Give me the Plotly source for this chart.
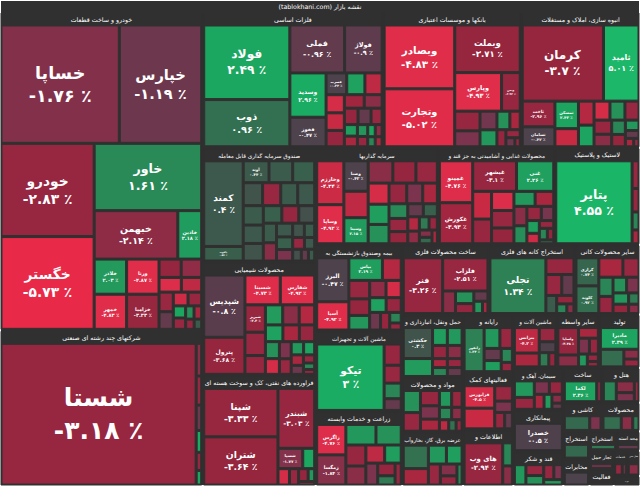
import plotly.graph_objects as go

# sector headers as they read on the map
sector_names = [
    "خودرو و ساخت قطعات", "شرکتهای چند رشته ای صنعتی", "فلزات اساسی",
    "بانکها و موسسات اعتباری", "انبوه سازی، املاک و مستغلات",
    "صندوق سرمایه گذاری قابل معامله", "محصولات شیمیایی",
    "فراورده های نفتی، کک و سوخت هسته ای", "سرمایه گذاریها",
    "محصولات غذایی و آشامیدنی به جز قند و", "لاستیک و پلاستیک",
    "بیمه وصندوق بازنشستگی به", "ماشین آلات و تجهیزات", "زراعت و خدمات وابسته",
    "ساخت محصولات فلزی", "استخراج کانه های فلزی", "سایر محصولات کانی",
    "حمل ونقل، انبارداری و", "مواد و محصولات", "عرضه برق، گاز، بخاروآب",
    "رایانه و", "فعالیتهای کمک", "ماشین آلات و", "اطلاعات و", "سایر واسطه",
    "تولید", "سیمان، آهک و", "پیمانکاری", "قند و شکر", "ساخت", "هتل و",
    "کاشی و", "محصولات", "استخراج", "مخابرات", "خدمات", "استخراج ",
    "فعالیت", "محد استه", "تجار حمل", "خرده", "فعال منس",
]
# relative market size of each sector (area on the map)
sector_sizes = [
    64000, 31300, 24300, 18600, 16000, 12800, 12700, 12400, 11800, 11200, 8200,
    7400, 6900, 6400, 6000, 5950, 4500, 3800, 3300, 3250, 2900, 2850, 2300, 2800,
    2250, 2150, 2100, 2050, 1700, 1350, 1300, 1100, 1080, 720, 700, 340, 520,
    400, 450, 445, 260, 320,
]

# symbols per sector ("" = cell too small for a label)
leaf_names = [
    ["خساپا", "خپارس", "خودرو", "خگستر", "خاور", "خبهمن", "خاذین", "خلاذر", "خمهر", "ورنا", "خزامیا"] + [""] * 14,
    ["شستا"] + [""] * 6,
    ["فولاد", "ذوب", "فملی", "فولاژ", "وسدید", "فخوز", "فسرب"] + [""] * 18,
    ["وبصادر", "وتجارت", "وبملت", "وپارس", "وبمن"] + [""] * 10,
    ["کرمان", "ثامید", "ثاخت", "ثسامان", "ثمسکن"] + [""] * 14,
    ["کمند", "یاقوت", "آوند"] + [""] * 25,
    ["شپدیس", "شسینا", "شفارس", "پترول", "شبریز"] + [""] * 19,
    ["شپنا", "شتران", "شبندر", "شسپا"] + [""] * 6,
    ["وخارزم", "وساپا", "وصنا", "وسینا"] + [""] * 22,
    ["غمینو", "غکورش", "غبشهر", "غنی"] + [""] * 17,
    ["پتایر"] + [""] * 4,
    ["البرز", "آسیا", "بپاس"] + [""] * 12,
    ["تیکو"] + [""] * 4,
    ["زاگرس", "زمگسا"] + [""] * 10,
    ["فنر", "فلزاب"] + [""] * 6,
    ["تجلی"] + [""] * 7,
    ["کرازی", "کلوند"] + [""] * 10,
    ["حکشتی"] + [""] * 9,
    [""] * 12,
    [""] * 8,
    ["رانفور"] + [""] * 6,
    ["فرابورس"] + [""] * 5,
    ["بترانس"] + [""] * 5,
    ["های وب"] + [""] * 2,
    ["ولساپا"] + [""] * 7,
    ["مادیرا"] + [""] * 3,
    [""] * 8,
    ["خصدرا"],
    [""] * 6,
    ["لکما", ""],
    [""] * 4,
    [""] * 2,
    [""] * 3,
    [""],
    [""],
    [""] * 2,
    [""],
    [""],
    [""],
    [""],
    [""],
    [""],
]
leaf_sizes = [
    [14500, 10100, 9000, 8950, 7500, 4200, 1200, 1180, 1180, 1180, 1180,
     420, 390, 340, 310, 290, 260, 210, 195, 155, 145, 115, 105, 90, 80],
    [27500, 180, 160, 140, 120, 100, 80],
    [6000, 3800, 2450, 1680, 1500, 1000, 420,
     370, 350, 310, 300, 280, 250, 225, 210, 200, 170, 140, 130, 115, 100, 85, 78, 70, 65],
    [4700, 4270, 3250, 1885, 750, 520, 420, 330, 300, 250, 200, 160, 120, 85, 50],
    [6960, 3040, 945, 735, 730, 480, 420, 380, 340, 320, 300, 280, 250, 220, 190, 160, 120, 80, 50],
    [3650, 620, 610, 420, 420, 560, 520, 480, 450, 420, 400, 380, 350, 320, 300, 280,
     260, 240, 220, 200, 180, 160, 150, 130, 110, 90, 80],
    [2800, 1150, 1120, 1670, 610, 520, 420, 380, 360, 340, 320, 300, 280, 260, 240,
     220, 200, 180, 160, 140, 120, 100, 80, 60],
    [3850, 3820, 2350, 540, 260, 200, 160, 130, 90, 60],
    [1300, 1160, 805, 690, 460, 700, 600, 560, 520, 480, 440, 400, 360, 330, 300,
     270, 250, 220, 200, 180, 160, 140, 120, 100, 90, 80],
    [1500, 1470, 1435, 1220, 560, 500, 460, 420, 380, 340, 300, 270, 250, 220, 190,
     170, 140, 120, 100, 80, 60],
    [6630, 200, 170, 130, 100],
    [1400, 900, 750, 420, 380, 340, 300, 280, 260, 240, 220, 190, 160, 120, 80],
    [4690, 380, 320, 280, 210],
    [890, 880, 620, 520, 420, 380, 340, 300, 260, 220, 160, 135],
    [2280, 1560, 300, 240, 190, 150, 110, 70],
    [3190, 480, 340, 260, 200, 150, 100, 70],
    [660, 650, 480, 320, 280, 250, 220, 200, 180, 150, 120, 100],
    [930, 540, 270, 270, 200, 200, 135, 135, 135, 135],
    [500, 420, 380, 330, 300, 270, 230, 200, 170, 140, 110, 90],
    [660, 460, 380, 330, 280, 220, 170, 120],
    [1020, 380, 300, 240, 220, 180, 120],
    [760, 700, 300, 220, 180, 140],
    [700, 380, 260, 200, 150, 110],
    [1680, 230, 190],
    [760, 330, 280, 230, 190, 150, 110, 80],
    [850, 420, 150, 120],
    [360, 260, 220, 190, 160, 130, 100, 70],
    [1200],
    [280, 230, 200, 180, 150, 120],
    [700, 100],
    [330, 260, 200, 120],
    [450, 200],
    [350, 220, 120],
    [400],
    [350],
    [150, 80],
    [250],
    [150],
    [130],
    [120],
    [90],
    [80],
]
leaf_pcts = [
    [-1.76, -1.19, -2.83, -5.73, 1.61, -2.14, 2.18, 2.03, -4.83, -4.87, -3.33,
     -3.5, -2.2, -4.6, -4.2, -2.8, -1.0, -4.4, -3.1, 2.5, -2.5, 1.8, -4.0, -3.0, 0.5],
    [-3.18, -2.0, -2.5, -1.2, 2.6, -3.0, 2.4],
    [2.49, 0.96, -0.96, -0.9, 2.96, -0.47, -0.44,
     2.3, -4.2, -4.5, -4.3, -3.6, -3.9, -2.0, -3.5, -1.0, -2.6, 2.2, -4.0, 1.9, -3.0, 2.5, -2.2, 1.5, -4.0],
    [-4.83, -5.02, -3.71, -4.93, -2.92, -3.2, -1.5, -1.3, 2.0, 1.8, -4.0, -3.6, -2.5, -1.2, -3.0],
    [-3.7, 5.01, -2.96, -0.42, 2.43, -4.3, -4.1, 2.4, -4.5, 1.8, -2.7, -3.0, -2.0, 1.5, -3.8, 2.0, -1.0, -4.0, -2.4],
    [0.4, 0.56, 0.44, 0.5, 0.4, 0.5, 0.6, 0.3, -2.5, 0.5, 0.4, 0.3, 0.6, -3.0, 0.2, 0.5,
     -2.0, 0.4, 0.6, -1.5, 0.3, 0.5, -2.8, 0.4, 0.2, -1.0, 0.5],
    [-0.8, -4.73, -4.92, -3.68, -3.4, -2.5, -3.1, 2.1, -2.0, -4.1, 2.3, -4.0, -3.3, 1.8,
     -4.5, -1.5, -2.6, 2.0, 2.4, -4.0, -1.2, -2.8, 1.5, -3.5],
    [-3.33, -3.64, -3.03, -1.77, 2.5, -4.5, -2.8, -3.5, 2.0, -4.0],
    [-4.34, -4.92, -0.42, 2.15, 2.2, -4.2, -2.0, -3.6, -2.8, -4.5, 1.8, -3.0, -1.5, -4.0,
     1.6, -2.5, -3.8, -1.0, 0.6, -4.1, -2.2, 1.2, -3.0, -1.8, 0.8, -4.0],
    [-4.76, -3.93, -3.1, 2.26, -4.3, -3.0, -4.6, -2.5, -3.8, 2.0, -4.0, -2.0, 1.7, -3.3,
     -1.4, 2.2, -4.4, -2.7, 1.5, -3.6, 0.9],
    [4.55, -2.5, -3.0, 1.5, -4.0],
    [-0.47, -4.92, 2.19, -4.1, -2.8, -3.5, 1.9, -2.2, -4.5, 2.3, -3.0, -1.2, -3.8, 1.4, -2.5],
    [3.0, -3.2, -2.5, 1.5, -1.0],
    [-4.76, -1.84, 2.0, 1.8, -3.0, -2.0, -4.2, 2.2, -1.5, -3.5, 1.2, -2.8],
    [-3.26, -2.51, -2.0, 1.8, -3.5, -1.0, 2.0, -4.0],
    [1.34, -3.2, -2.5, -1.0, 0.5, -3.8, 1.5, -2.0],
    [0.74, 0.92, -4.0, -2.5, 1.5, -3.0, 1.8, -1.5, 2.0, -3.8, 1.2, -2.0],
    [0.3, 2.1, 2.2, 2.0, -3.0, -2.0, -4.0, 1.5, -2.5, -1.0],
    [1.8, -2.5, -3.0, -1.5, -4.0, 2.0, -3.4, 1.5, -2.0, -4.2, 1.0, -3.0],
    [1.0, -4.0, 2.0, 2.2, -2.5, -1.8, -3.0, 1.5],
    [1.34, 2.0, -2.5, -1.0, 2.2, 1.5, -3.0],
    [-4.5, -4.3, -2.5, -1.5, -3.0, -1.0],
    [-4.2, -4.0, -2.5, -0.5, 1.2, -3.5],
    [-2.94, 1.5, -2.0],
    [-3.48, -2.0, -4.0, -1.5, -3.0, 2.0, -2.5, -3.8],
    [2.39, 0.9, -2.0, -3.0],
    [2.0, -2.5, -1.5, -3.0, -4.0, 2.1, -2.0, -1.0],
    [-0.5],
    [2.0, -2.5, 1.8, -3.0, -1.5, 2.1],
    [2.36, -2.0],
    [1.5, -2.0, -1.5, -3.0],
    [0.8, -1.5],
    [0.9, -2.0, 1.2],
    [0.8],
    [-0.4],
    [-3.0, -1.5],
    [1.2],
    [-2.0],
    [-1.0],
    [-1.5],
    [-3.0],
    [-2.0],
]

# red -> grey -> green, like the site
STOPS = [
    (-6.0, (236, 40, 72)), (-4.6, (220, 46, 74)), (-4.3, (200, 42, 68)),
    (-3.8, (150, 37, 62)), (-2.5, (152, 40, 66)), (-1.5, (124, 52, 78)),
    (-0.6, (80, 64, 76)), (0.0, (72, 72, 76)), (0.6, (56, 96, 76)),
    (1.2, (48, 122, 84)), (1.8, (38, 146, 90)), (2.6, (26, 170, 98)),
    (5.5, (28, 186, 106)),
]


def color_for(p):
    if p <= STOPS[0][0]:
        c = STOPS[0][1]
    elif p >= STOPS[-1][0]:
        c = STOPS[-1][1]
    else:
        for (a, ca), (b, cb) in zip(STOPS, STOPS[1:]):
            if a <= p <= b:
                t = (p - a) / (b - a)
                c = tuple(ca[i] + (cb[i] - ca[i]) * t for i in range(3))
                break
    return "rgb(%d,%d,%d)" % tuple(round(v) for v in c)


FA = str.maketrans("0123456789", "۰۱۲۳۴۵۶۷۸۹")


def pct_label(p):
    s = f"{p:.2f}".rstrip("0").rstrip(".")
    return s.translate(FA) + " ٪"


DARK = "#303030"
ids, labels, parents, values, colors, texts, sizes = [], [], [], [], [], [], []

ids.append("root")
labels.append("(tablokhani.com) نقشه بازار")
parents.append("")
values.append(0)
colors.append(DARK)
texts.append("<b>(tablokhani.com) نقشه بازار</b>")
sizes.append(9)

for si, sname in enumerate(sector_names):
    sid = f"s{si}"
    ids.append(sid)
    labels.append(sname)
    parents.append("root")
    values.append(0)
    colors.append(DARK)
    texts.append(f"<b>{sname}</b>")
    sizes.append(9)
    k = sector_sizes[si] / sum(leaf_sizes[si])
    for li, (n, v, p) in enumerate(zip(leaf_names[si], leaf_sizes[si], leaf_pcts[si])):
        ids.append(f"{sid}-{li}")
        labels.append(n or f"{sid}-{li}")
        parents.append(sid)
        val = v * k
        values.append(val)
        colors.append(color_for(p))
        texts.append(f"<b>{n}</b><br><b>{pct_label(p)}</b>" if n else "")
        sizes.append(max(4, min(25, 0.145 * val ** 0.5)))

fig = go.Figure(go.Treemap(
    ids=ids,
    labels=labels,
    parents=parents,
    values=values,
    branchvalues="remainder",
    text=texts,
    texttemplate="%{text}",
    textposition="middle center",
    textfont=dict(family="DejaVu Sans", color="white", size=sizes),
    marker=dict(colors=colors, line=dict(width=1, color=DARK),
                pad=dict(t=13, l=1, r=1, b=1)),
    tiling=dict(packing="squarify", pad=2),
    pathbar=dict(visible=False),
    hoverinfo="skip",
    sort=True,
))

fig.update_layout(
    width=640, height=486,
    margin=dict(l=0, r=0, t=0, b=0),
    paper_bgcolor=DARK,
)

# drop the page's default body margin so the map fills the window
fig.write_html("out.html", config={"displayModeBar": False},
               post_script="document.body.style.margin='0';document.body.style.overflow='hidden';")
